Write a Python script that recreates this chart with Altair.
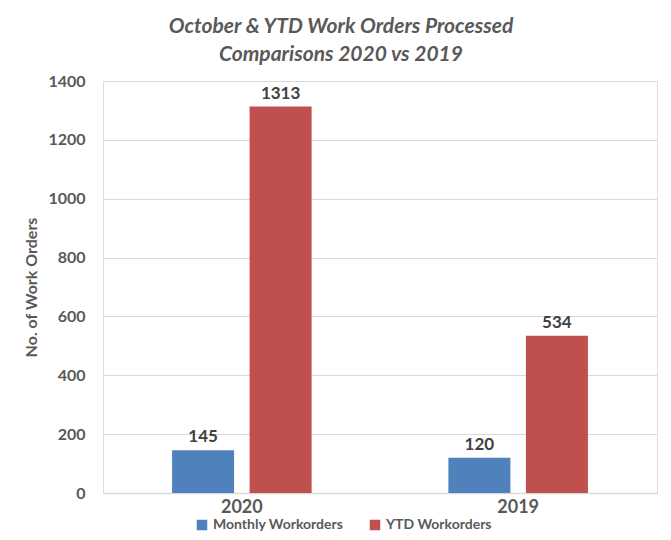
import altair as alt
import pandas as pd

years = ["2020", "2020", "2019", "2019"]
series = ["Monthly Workorders", "YTD Workorders", "Monthly Workorders", "YTD Workorders"]
values = [145, 1313, 120, 534]
year_order = ["2020", "2019"]
series_order = ["Monthly Workorders", "YTD Workorders"]
colors = ["#4F81BD", "#C0504D"]

df = pd.DataFrame({"year": years, "series": series, "value": values})

FONT = "Lato"
GRAY = "#595959"

base = alt.Chart(df).encode(
    x=alt.X("year:N", sort=year_order,
            scale=alt.Scale(paddingInner=0.495, paddingOuter=0.25),
            axis=alt.Axis(title=None, labelAngle=0, labelFont=FONT, labelFontSize=18,
                          labelFontWeight="bold", labelColor=GRAY, domainColor="#D9D9D9",
                          domainWidth=1.5, ticks=False, labelPadding=5)),
    xOffset=alt.XOffset("series:N", sort=series_order,
                        scale=alt.Scale(paddingInner=0.2, paddingOuter=0)),
)

bars = base.mark_bar().encode(
    y=alt.Y("value:Q", scale=alt.Scale(domain=[0, 1400]),
            axis=alt.Axis(title="No. of Work Orders", values=list(range(0, 1401, 200)),
                          format="d",
                          titleFont=FONT, titleFontSize=16, titleFontWeight="bold",
                          titleColor=GRAY, titlePadding=8,
                          labelFont=FONT, labelFontSize=16, labelFontWeight="bold",
                          labelColor=GRAY, labelPadding=18, domain=False, ticks=False,
                          gridColor="#D9D9D9", gridWidth=1)),
    color=alt.Color("series:N", sort=series_order,
                    scale=alt.Scale(domain=series_order, range=colors),
                    legend=alt.Legend(title=None, orient="none", direction="horizontal",
                                      legendX=92, legendY=437, symbolType="square",
                                      symbolSize=110, symbolStrokeWidth=0,
                                      labelFont=FONT, labelFontSize=14,
                                      labelFontWeight="bold", labelColor=GRAY,
                                      columnPadding=24, labelOffset=4)),
)

labels = base.mark_text(dy=-13, font=FONT, fontSize=17, fontWeight="bold",
                        color="#404040").encode(
    y=alt.Y("value:Q"),
    text=alt.Text("value:Q"),
)

chart = (bars + labels).properties(
    width=554,
    height=412,
    title=alt.TitleParams(
        text=["October & YTD Work Orders Processed", "Comparisons 2020 vs 2019"],
        font=FONT, fontSize=21, fontStyle="italic", fontWeight="bold", color=GRAY,
        anchor="middle", frame="group", dx=-39, offset=8, lineHeight=28,
    ),
    autosize=alt.AutoSizeParams(type="none"),
    padding={"left": 95, "top": 73, "right": 6, "bottom": 40},
).configure_view(stroke=None).configure(background="white")

chart.save("out.html", embed_options={"renderer": "svg", "actions": False})
